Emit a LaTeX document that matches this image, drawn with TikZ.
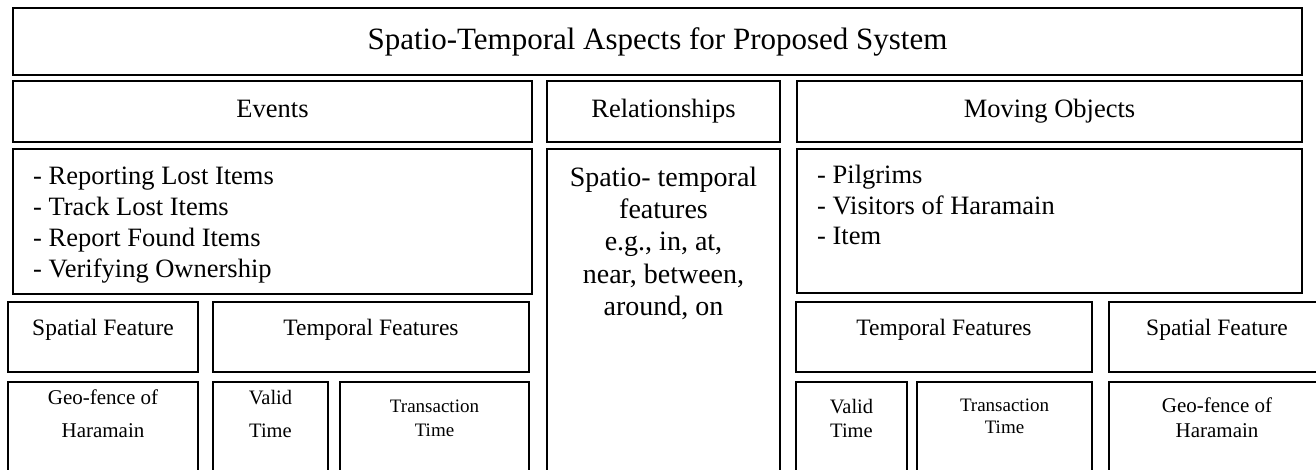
\documentclass[tikz,border=0pt]{standalone}
\usepackage{fontspec}
\setmainfont{Liberation Serif}
\usetikzlibrary{fit}
\tikzset{
  bx/.style={draw, line width=1.6pt, inner sep=0pt},
  txt/.style={inner sep=0pt, anchor=base},
  ttl/.style={txt, font=\fontsize{31}{37}\selectfont},
  hd/.style={txt, font=\fontsize{26.5}{31}\selectfont},
  lst/.style={inner sep=0pt, anchor=base west, align=left},
  relt/.style={txt, align=center, font=\fontsize{28}{32.3}\selectfont},
  sub/.style={txt, font=\fontsize{23.5}{28}\selectfont},
}
\begin{document}
\begin{tikzpicture}[x=1pt,y=-1pt]
\useasboundingbox (0,0) rectangle (1316,470);
\clip (0,0) rectangle (1316,470);
% boxes
\node[bx, fit={(13,8)(1302,75)}] (title) {};
\node[bx, fit={(13,81)(532,142)}] (events) {};
\node[bx, fit={(547,81)(780,142)}] (rel) {};
\node[bx, fit={(797,81)(1302,142)}] (mov) {};
\node[bx, fit={(13,149)(532,294)}] (evlist) {};
\node[bx, fit={(547,149)(780,485)}] (relbody) {};
\node[bx, fit={(797,149)(1302,293)}] (movlist) {};
\node[bx, fit={(8,302)(198,372)}] (lsp) {};
\node[bx, fit={(213,302)(529,372)}] (ltf) {};
\node[bx, fit={(8,382)(198,485)}] (lgeo) {};
\node[bx, fit={(213,382)(328,485)}] (lvt) {};
\node[bx, fit={(340,382)(529,485)}] (ltt) {};
\node[bx, fit={(796,302)(1092,372)}] (rtf) {};
\node[bx, fit={(1109,302)(1325,372)}] (rsp) {};
\node[bx, fit={(796,382)(907,485)}] (rvt) {};
\node[bx, fit={(917,382)(1092,485)}] (rtt) {};
\node[bx, fit={(1109,382)(1325,485)}] (rgeo) {};
% texts (multi-line nodes: base anchor = baseline of last line)
\node[ttl] (titletxt) at (657.5,50) {Spatio-Temporal Aspects for Proposed System};
\node[hd] (eventstxt) at (272.5,118) {Events};
\node[hd] (reltxt) at (663.5,118) {Relationships};
\node[hd] (movtxt) at (1049.5,118) {Moving Objects};
\node[lst, font=\fontsize{26.5}{31.1}\selectfont] (evlisttxt) at (33,277.5)
  {- Reporting Lost Items\\- Track Lost Items\\- Report Found Items\\- Verifying Ownership};
\node[relt] (relbodytxt) at (663.5,315.5)
  {Spatio- temporal\\features\\e.g., in, at,\\near, between,\\around, on};
\node[lst, font=\fontsize{26.5}{31}\selectfont] (movlisttxt) at (817,245)
  {- Pilgrims\\- Visitors of Haramain\\- Item};
\node[sub] (lsptxt) at (103,335) {Spatial Feature};
\node[sub] (ltftxt) at (371,335) {Temporal Features};
\node[sub] (rtftxt) at (944,335) {Temporal Features};
\node[sub] (rsptxt) at (1217,335) {Spatial Feature};
\node[txt, align=center, font=\fontsize{21}{33}\selectfont] (lgeotxt) at (103,437) {Geo-fence of\\Haramain};
\node[txt, align=center, font=\fontsize{20.5}{33}\selectfont] (lvttxt) at (270.5,437) {Valid\\Time};
\node[txt, align=center, font=\fontsize{19}{24}\selectfont] (ltttxt) at (434.5,436.7) {Transaction\\Time};
\node[txt, align=center, font=\fontsize{20.5}{24}\selectfont] (rvttxt) at (851.5,437) {Valid\\Time};
\node[txt, align=center, font=\fontsize{19}{21.5}\selectfont] (rtttxt) at (1004.5,433) {Transaction\\Time};
\node[txt, align=center, font=\fontsize{21}{25}\selectfont] (rgeotxt) at (1217,437) {Geo-fence of\\Haramain};
\end{tikzpicture}
\end{document}
